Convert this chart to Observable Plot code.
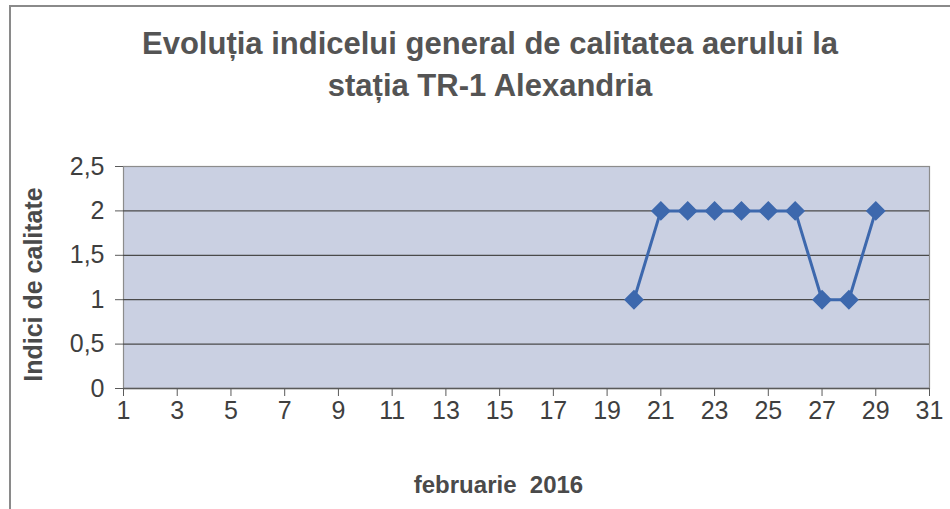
<!DOCTYPE html>
<html>
<head>
<meta charset="utf-8">
<script src="https://cdn.jsdelivr.net/npm/d3@7"></script>
<script src="https://cdn.jsdelivr.net/npm/@observablehq/plot@0.6"></script>
<style>
  html, body { margin: 0; padding: 0; background: #fff; }
  #wrap { position: relative; width: 950px; height: 509px; overflow: hidden; background: #fff; font-family: "Liberation Sans", Arial, sans-serif; }
  #frame { position: absolute; left: 9px; top: 5px; width: 960px; height: 520px; border-top: 2px solid #8a8a8a; border-left: 2px solid #8a8a8a; }
  #chart { position: absolute; top: 0; left: 0; }
  #title { position: absolute; top: 23px; left: 0; width: 980px; text-align: center; font-weight: bold; font-size: 31px; line-height: 42px; color: #545454; }
</style>
</head>
<body>
<div id="wrap">
  <div id="frame"></div>
  <div id="chart"></div>
  <div id="title">Evoluția indicelui general de calitatea aerului la<br>stația TR-1 Alexandria</div>
</div>
<script>
const days = [20, 21, 22, 23, 24, 25, 26, 27, 28, 29];
const indices = [1, 2, 2, 2, 2, 2, 2, 1, 1, 2];
const xTicks = [1, 3, 5, 7, 9, 11, 13, 15, 17, 19, 21, 23, 25, 27, 29, 31];
const yTicks = [0, 0.5, 1, 1.5, 2, 2.5];
const xLabel = "februarie\u00a0 2016";
const yLabel = "Indici de calitate";

const data = days.map((d, i) => ({day: d, value: indices[i]}));
const fmt = d => String(d).replace(".", ",");

const chart = Plot.plot({
  width: 950,
  height: 509,
  marginLeft: 123,
  marginRight: 21,
  marginTop: 166,
  marginBottom: 121,
  style: {fontFamily: "'Liberation Sans', Arial, sans-serif", color: "#3f3f3f", background: "transparent"},
  x: {domain: [1, 31], ticks: xTicks, tickFormat: d => String(d), label: null},
  y: {domain: [0, 2.5], ticks: yTicks, tickFormat: fmt, label: null},
  marks: [
    Plot.frame({fill: "#cad0e2", stroke: "#8c8c8c", strokeWidth: 1.2}),
    Plot.gridY([0.5, 1, 1.5, 2], {stroke: "#4a4a4a", strokeOpacity: 1, strokeWidth: 1.2}),
    Plot.ruleY([0], {stroke: "#5a5a5a", strokeWidth: 1.5}),
    Plot.axisY({ticks: yTicks, tickFormat: fmt, tickSize: 8, tickPadding: 11, fontSize: 25, stroke: "#5a5a5a", label: null}),
    Plot.axisX({ticks: xTicks, tickSize: 8, tickPadding: 5, fontSize: 25, stroke: "#5a5a5a", label: null}),
    Plot.text([yLabel], {frameAnchor: "left", textAnchor: "middle", dx: -90, dy: 7, rotate: -90, fontSize: 25, fontWeight: "bold", fill: "#4a4a4a"}),
    Plot.text([xLabel], {frameAnchor: "bottom", dx: -28, dy: 104, fontSize: 24, fontWeight: "bold", fill: "#4a4a4a"}),
    Plot.line(data, {x: "day", y: "value", stroke: "#3d68ad", strokeWidth: 3}),
    Plot.dot(data, {x: "day", y: "value", symbol: "diamond2", r: 8, fill: "#3d68ad", stroke: "#3d68ad"})
  ]
});
document.getElementById("chart").appendChild(chart);
</script>
</body>
</html>
